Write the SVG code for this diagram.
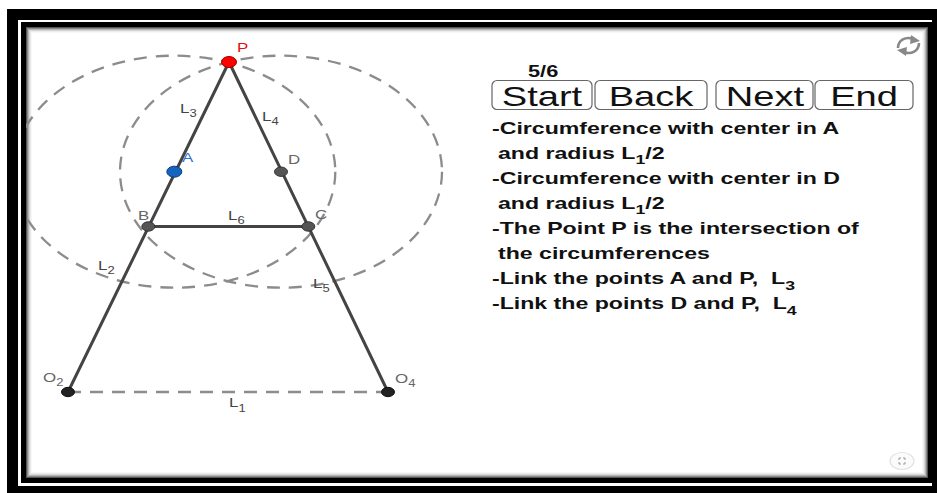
<svg xmlns="http://www.w3.org/2000/svg" width="937" height="493" viewBox="0 0 937 493">
<defs>
<style>
.lbl{font-family:"Liberation Sans",Arial,sans-serif;font-size:13px;fill:#444}
.pl{fill:#666}
.sub{font-size:10px}
.circ{fill:none;stroke:#8c8c8c;stroke-width:2.3;stroke-dasharray:13 9}
.bar{stroke:#444;stroke-width:3;stroke-linecap:round;fill:none}
.pt{fill:#555;stroke:#333;stroke-width:1}
.txt{font-family:"Liberation Sans",Arial,sans-serif;font-weight:bold;font-size:17px;fill:#111}
.btn rect{fill:#fff;stroke:#666;stroke-width:1.2}
.btn text{font-family:"Liberation Sans",Arial,sans-serif;font-size:28px;fill:#111;text-anchor:middle}
.icon{fill:none;stroke:#888;stroke-width:2.6}
</style>
<clipPath id="content"><rect x="26" y="27" width="902" height="451"/></clipPath>
</defs>
<rect x="0" y="0" width="937" height="493" fill="#fff"/>
<!-- frame -->
<rect x="7" y="9" width="940" height="490" fill="#000"/>
<rect x="18" y="20" width="914" height="466" fill="#fff"/>
<rect x="21" y="22" width="911" height="461" fill="#000"/>
<rect x="26" y="27" width="902" height="451" fill="#fff"/>
<g fill="none">
<rect x="26.5" y="27.5" width="901" height="450" stroke="#555"/>
<rect x="27.5" y="28.5" width="899" height="448" stroke="#8a8a8a"/>
<rect x="28.5" y="29.5" width="897" height="446" stroke="#b5b5b5"/>
<rect x="29.5" y="30.5" width="895" height="444" stroke="#d6d6d6"/>
<rect x="30.5" y="31.5" width="893" height="442" stroke="#ececec"/>
<rect x="31.5" y="32.5" width="891" height="440" stroke="#f7f7f7"/>
</g>

<!-- construction circles -->
<g id="circles" clip-path="url(#content)">
<ellipse class="circ" cx="174.3" cy="171.7" rx="161" ry="116"/>
<ellipse class="circ" cx="281" cy="171.7" rx="161" ry="116"/>
</g>

<!-- connectors -->
<g id="connectors">
<line x1="68" y1="392" x2="388" y2="392" stroke="#8c8c8c" stroke-width="2.3" stroke-dasharray="13 9"/>
<line class="bar" x1="68" y1="392" x2="229" y2="62"/>
<line class="bar" x1="229" y1="62" x2="388" y2="392"/>
<line class="bar" x1="148.3" y1="226.5" x2="308.3" y2="226.5" stroke-width="2.6"/>
<text class="lbl" transform="translate(180,113) scale(1.3,1)">L<tspan class="sub" dy="4">3</tspan></text>
<text class="lbl" transform="translate(262,121) scale(1.3,1)">L<tspan class="sub" dy="4">4</tspan></text>
<text class="lbl" transform="translate(228,220) scale(1.3,1)">L<tspan class="sub" dy="3.5">6</tspan></text>
<text class="lbl" transform="translate(98,270) scale(1.3,1)">L<tspan class="sub" dy="4">2</tspan></text>
<text class="lbl" transform="translate(313,288) scale(1.3,1)">L<tspan class="sub" dy="4">5</tspan></text>
<text class="lbl" transform="translate(229,407) scale(1.3,1)">L<tspan class="sub" dy="5">1</tspan></text>
</g>

<!-- nodes -->
<g id="node-P">
<ellipse cx="229" cy="62" rx="7.5" ry="5.5" fill="#f00" stroke="#900" stroke-width="1"/>
<text class="lbl" style="fill:#e01010" transform="translate(237,52) scale(1.3,1)">P</text>
</g>
<g id="node-A">
<ellipse cx="174.3" cy="171.7" rx="7.5" ry="5.5" fill="#1565c0" stroke="#0b3a78" stroke-width="1"/>
<text class="lbl" style="fill:#3070c8" transform="translate(182,162) scale(1.3,1)">A</text>
</g>
<g id="node-D">
<ellipse class="pt" cx="281" cy="171.7" rx="6.5" ry="4.7"/>
<text class="lbl pl" transform="translate(288,164) scale(1.3,1)">D</text>
</g>
<g id="node-B">
<ellipse class="pt" cx="148.3" cy="226.5" rx="6.5" ry="4.7"/>
<text class="lbl pl" transform="translate(138,220) scale(1.3,1)">B</text>
</g>
<g id="node-C">
<ellipse class="pt" cx="308.3" cy="226.5" rx="6.5" ry="4.7"/>
<text class="lbl pl" transform="translate(315,219) scale(1.3,1)">C</text>
</g>
<g id="node-O2">
<ellipse cx="68" cy="392" rx="6.5" ry="4.7" fill="#222" stroke="#111" stroke-width="1"/>
<text class="lbl pl" transform="translate(43,382) scale(1.3,1)">O<tspan class="sub" dy="3.5">2</tspan></text>
</g>
<g id="node-O4">
<ellipse cx="388" cy="392" rx="6.5" ry="4.7" fill="#222" stroke="#111" stroke-width="1"/>
<text class="lbl pl" transform="translate(395,383) scale(1.3,1)">O<tspan class="sub" dy="3.5">4</tspan></text>
</g>

<!-- step counter and buttons -->
<text class="txt" style="font-size:16px" transform="translate(528,77) scale(1.36,1)">5/6</text>
<g id="btn-start" class="btn"><rect x="492" y="80.5" width="100" height="29" rx="5"/><text transform="translate(542,106) scale(1.36,1)">Start</text></g>
<g id="btn-back" class="btn"><rect x="595" y="80.5" width="112" height="29" rx="5"/><text transform="translate(651,106) scale(1.36,1)">Back</text></g>
<g id="btn-next" class="btn"><rect x="716" y="80.5" width="97" height="29" rx="5"/><text transform="translate(765,106) scale(1.36,1)">Next</text></g>
<g id="btn-end" class="btn"><rect x="815" y="80.5" width="98" height="29" rx="5"/><text transform="translate(864,106) scale(1.36,1)">End</text></g>

<!-- instructions -->
<g id="instructions">
<text class="txt" transform="translate(492,134) scale(1.36,1)">-Circumference with center in A</text>
<text class="txt" transform="translate(498,159) scale(1.36,1)">and radius L<tspan font-size="13" dy="5">1</tspan><tspan dy="-5">/2</tspan></text>
<text class="txt" transform="translate(492,184) scale(1.36,1)">-Circumference with center in D</text>
<text class="txt" transform="translate(498,209) scale(1.36,1)">and radius L<tspan font-size="13" dy="5">1</tspan><tspan dy="-5">/2</tspan></text>
<text class="txt" transform="translate(492,234) scale(1.36,1)">-The Point P is the intersection of</text>
<text class="txt" transform="translate(498,259) scale(1.36,1)">the circumferences</text>
<text class="txt" transform="translate(492,284) scale(1.36,1)">-Link the points A and P,&#160; L<tspan font-size="13" dy="6">3</tspan></text>
<text class="txt" transform="translate(492,309) scale(1.36,1)">-Link the points D and P,&#160; L<tspan font-size="13" dy="6">4</tspan></text>
</g>

<!-- refresh icon -->
<g id="refresh-icon">
<path class="icon" d="M898 48 C898 40 906 36 913 39"/>
<path d="M911 35 L920 41 L910 44 Z" fill="#888"/>
<path class="icon" d="M919 43 C919 51 911 55 904 52"/>
<path d="M906 56 L897 50 L907 47 Z" fill="#888"/>
</g>

<!-- fullscreen button -->
<g id="fullscreen-btn">
<ellipse cx="902" cy="461" rx="12" ry="8.5" fill="#fbfbfb" stroke="#e2e2e2" stroke-width="1.2"/>
<path d="M898 459 h2 v-2 M904 457 v2 h2 M898 463 h2 v2 M904 465 v-2 h2" fill="none" stroke="#999" stroke-width="1"/>
</g>
</svg>
